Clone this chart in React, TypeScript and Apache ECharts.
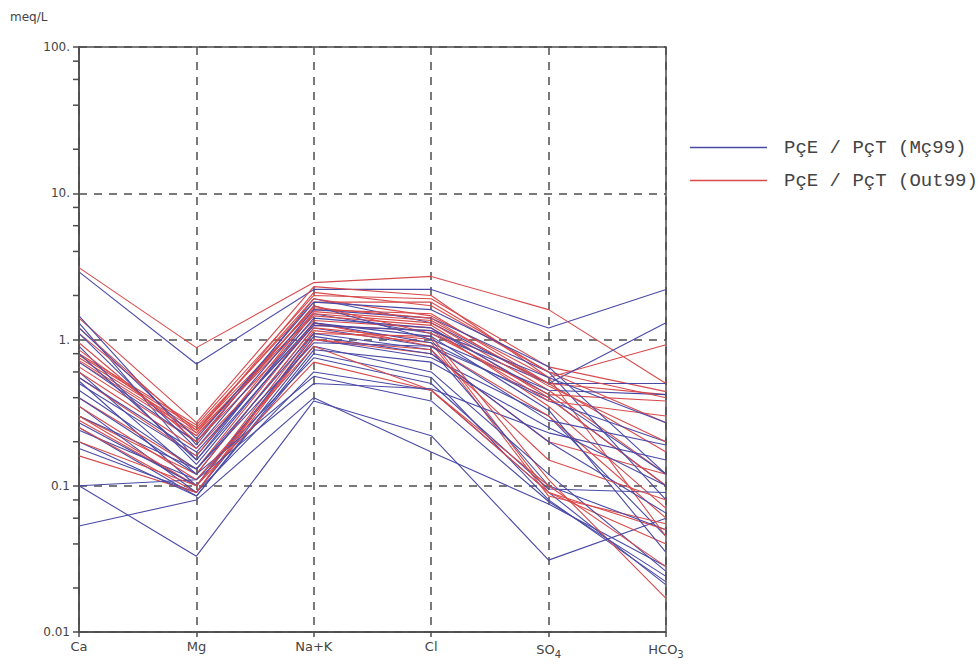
import React, { useEffect, useRef } from "react";
import * as echarts from "echarts";

const categories = ["Ca", "Mg", "Na+K", "Cl", "SO4", "HCO3"];
const yTickValues = [0.01, 0.1, 1, 10, 100];
const yTickLabels = ["0.01", "0.1", "1.", "10.", "100."];
const minorTickValues = [
  0.02, 0.04, 0.06, 0.08, 0.2, 0.4, 0.6, 0.8, 2, 4, 6, 8, 20, 40, 60, 80,
];

const seriesNameMc = "PçE / PçT (Mç99)";
const seriesNameOut = "PçE / PçT (Out99)";

// Columns: Ca, Mg, Na+K, Cl, SO4, HCO3 (meq/L)
const mc99Samples: number[][] = [
  [2.9, 0.68, 2.2, 2.2, 1.2, 2.2],
  [0.1, 0.033, 0.38, 0.22, 0.031, 0.06],
  [0.053, 0.08, 0.4, 0.17, 0.075, 0.028],
  [1.45, 0.19, 1.9, 1.3, 0.5, 1.3],
  [1.3, 0.15, 1.5, 1.1, 0.5, 0.5],
  [0.6, 0.12, 1.2, 0.9, 0.4, 0.1],
  [0.52, 0.1, 1.0, 0.75, 0.3, 0.045],
  [0.25, 0.085, 0.8, 0.55, 0.08, 0.022],
  [0.18, 0.09, 0.6, 0.45, 0.09, 0.021],
  [0.24, 0.11, 0.75, 0.5, 0.095, 0.09],
  [0.5, 0.16, 1.4, 1.2, 0.42, 0.12],
  [0.9, 0.14, 1.3, 0.95, 0.38, 0.2],
  [0.35, 0.09, 0.9, 0.6, 0.12, 0.026],
  [1.1, 0.18, 1.6, 1.4, 0.6, 0.08],
  [0.3, 0.13, 1.1, 0.85, 0.1, 0.05],
  [0.7, 0.2, 1.7, 1.0, 0.45, 0.42],
  [0.4, 0.12, 0.56, 0.38, 0.078, 0.024],
  [0.2, 0.085, 0.85, 0.7, 0.25, 0.1],
  [0.1, 0.11, 0.5, 0.46, 0.23, 0.15],
  [0.55, 0.17, 1.3, 1.05, 0.33, 0.035],
  [0.27, 0.1, 1.05, 0.8, 0.2, 0.065],
  [0.8, 0.15, 1.25, 1.15, 0.55, 0.27],
  [0.45, 0.13, 0.95, 0.9, 0.28, 0.19],
  [1.2, 0.21, 1.8, 1.6, 0.65, 0.12],
];

const out99Samples: number[][] = [
  [3.1, 0.88, 2.45, 2.7, 1.6, 0.5],
  [1.4, 0.27, 2.3, 2.0, 0.55, 0.92],
  [0.8, 0.26, 2.0, 1.9, 0.65, 0.44],
  [0.78, 0.25, 1.8, 1.8, 0.6, 0.27],
  [0.75, 0.24, 1.6, 1.5, 0.5, 0.17],
  [0.72, 0.23, 1.5, 1.3, 0.45, 0.12],
  [0.7, 0.22, 1.45, 1.25, 0.4, 0.1],
  [0.65, 0.2, 1.35, 1.2, 0.35, 0.07],
  [1.1, 0.24, 1.9, 1.45, 0.55, 0.045],
  [0.3, 0.12, 1.2, 1.0, 0.09, 0.04],
  [0.28, 0.1, 1.15, 0.95, 0.085, 0.055],
  [0.25, 0.09, 1.1, 1.05, 0.11, 0.017],
  [0.16, 0.09, 1.0, 0.8, 0.2, 0.12],
  [0.4, 0.13, 1.3, 0.9, 0.3, 0.06],
  [0.55, 0.16, 1.55, 1.35, 0.5, 0.42],
  [0.95, 0.2, 1.7, 1.1, 0.42, 0.38],
  [0.35, 0.11, 0.9, 0.45, 0.09, 0.05],
  [0.3, 0.1, 0.7, 0.45, 0.1, 0.028],
  [0.6, 0.18, 1.25, 1.15, 0.38, 0.3],
  [0.85, 0.22, 1.65, 1.4, 0.48, 0.2],
  [0.2, 0.1, 1.0, 0.85, 0.15, 0.08],
  [1.2, 0.23, 2.1, 1.7, 0.6, 0.4],
];

const BLUE = "#4a4aa6";
const RED = "#d84a4c";
const AXIS = "#4d4d4d";
const GRID_LEFT = 79;

export default function App() {
  const ref = useRef<HTMLDivElement>(null);

  useEffect(() => {
    if (!ref.current) return;
    const chart = echarts.init(ref.current, null, { renderer: "svg" });

    const lineSeries: any[] = [];
    const n = Math.max(mc99Samples.length, out99Samples.length);
    for (let i = 0; i < n; i++) {
      if (i < mc99Samples.length) {
        lineSeries.push({
          type: "line",
          name: seriesNameMc,
          data: mc99Samples[i],
          symbol: "none",
          lineStyle: { color: BLUE, width: 1.1 },
          itemStyle: { color: BLUE },
          silent: true,
        });
      }
      if (i < out99Samples.length) {
        lineSeries.push({
          type: "line",
          name: seriesNameOut,
          data: out99Samples[i],
          symbol: "none",
          lineStyle: { color: RED, width: 1.1 },
          itemStyle: { color: RED },
          silent: true,
        });
      }
    }

    const dashed = { color: AXIS, width: 1.5, type: [8, 7] as any };

    chart.setOption({
      animation: false,
      backgroundColor: "#ffffff",
      grid: {
        left: GRID_LEFT,
        top: 47,
        width: 587,
        height: 585,
        show: true,
        borderColor: AXIS,
        borderWidth: 1.5,
        backgroundColor: "transparent",
      },
      legend: {
        data: [
          { name: seriesNameMc, itemStyle: { color: BLUE } },
          { name: seriesNameOut, itemStyle: { color: RED } },
        ],
        orient: "vertical",
        left: 690,
        top: 137,
        padding: 0,
        icon: "rect",
        itemWidth: 77,
        itemHeight: 1.5,
        itemGap: 12,
        selectedMode: false,
        textStyle: {
          fontFamily: "Liberation Mono",
          fontSize: 19,
          color: "#444",
          lineHeight: 21,
          padding: [0, 0, 0, 12],
        },
      },
      xAxis: {
        type: "category",
        data: categories,
        boundaryGap: false,
        axisLine: { lineStyle: { color: AXIS, width: 1.5 } },
        axisTick: {
          show: true,
          interval: 0,
          length: 5,
          lineStyle: { color: AXIS, width: 1.5 },
        },
        splitLine: { show: true, interval: 0, lineStyle: dashed },
        axisLabel: {
          interval: 0,
          margin: 8,
          color: "#444",
          fontFamily: "DejaVu Sans",
          fontSize: 13,
          formatter: (v: string) => {
            if (v === "SO4") return "{b|SO}{s|4}";
            if (v === "HCO3") return "{b|HCO}{s|3}";
            return "{b|" + v + "}";
          },
          rich: {
            b: { fontFamily: "DejaVu Sans", fontSize: 13, color: "#444" },
            s: {
              fontFamily: "DejaVu Sans",
              fontSize: 10,
              color: "#444",
              padding: [9, 0, 0, 0],
            },
          },
        },
      },
      yAxis: {
        type: "log",
        logBase: 10,
        min: 0.01,
        max: 100,
        axisLine: { show: true, lineStyle: { color: AXIS, width: 1.5 } },
        axisTick: { show: true, length: 6, lineStyle: { color: AXIS, width: 1.5 } },
        splitLine: { show: true, lineStyle: dashed },
        axisLabel: {
          margin: 9,
          color: "#444",
          fontFamily: "DejaVu Sans",
          fontSize: 12,
          formatter: (v: number) => {
            const idx = yTickValues.findIndex(
              (t) => Math.abs(Math.log10(t) - Math.log10(v)) < 1e-6
            );
            return idx >= 0 ? yTickLabels[idx] : "";
          },
        },
      },
      series: lineSeries,
    });

    // Minor ticks placed through the chart's own log scale
    const graphics: any[] = [
      {
        type: "text",
        left: 10,
        top: 11,
        style: {
          text: "meq/L",
          fontFamily: "DejaVu Sans",
          fontSize: 12,
          fill: "#444",
        },
      },
    ];
    let xAxisPx = Number(chart.convertToPixel({ xAxisIndex: 0 }, categories[0] as any));
    if (!isFinite(xAxisPx)) xAxisPx = GRID_LEFT;
    minorTickValues.forEach((v) => {
      const yPx = Number(chart.convertToPixel({ yAxisIndex: 0 }, v));
      if (isFinite(yPx)) {
        graphics.push({
          type: "line",
          shape: { x1: xAxisPx - 6, y1: yPx, x2: xAxisPx, y2: yPx },
          style: { stroke: AXIS, lineWidth: 1.5 },
          silent: true,
          z: 10,
        });
      }
    });
    chart.setOption({ graphic: graphics });

    return () => chart.dispose();
  }, []);

  return (
    <div
      ref={ref}
      style={{ position: "absolute", left: 0, top: 0, width: 980, height: 664 }}
    />
  );
}
